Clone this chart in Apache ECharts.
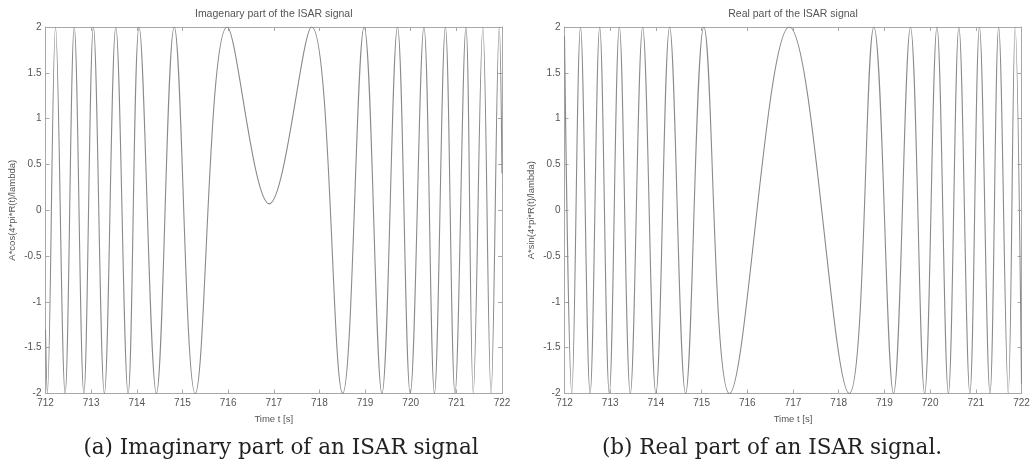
<!DOCTYPE html>
<html><head><meta charset="utf-8">
<script src="https://cdn.jsdelivr.net/npm/echarts@6/dist/echarts.min.js"></script>
<style>html,body{margin:0;padding:0;background:#fff}#c{width:1033px;height:468px}</style>
</head><body><div id="c"></div>
<script>
// ---- data ----
const xTickLabels = ['712','713','714','715','716','717','718','719','720','721','722'];
const yTickLabels = ['-2','-1.5','-1','-0.5','0','0.5','1','1.5','2'];

// Imaginary part: extrema (peaks / troughs)
const imagT = [712, 712.04, 712.22, 712.43, 712.63, 712.84, 713.05, 713.29, 713.54, 713.81, 714.05, 714.43, 714.82, 715.28, 715.98, 716.90, 717.83, 718.51, 718.98, 719.37, 719.71, 719.99, 720.29, 720.52, 720.76, 720.97, 721.21, 721.37, 721.58, 721.76, 721.94, 722];
const imagV = [-1.3, -2, 2, -2, 2, -2, 2, -2, 2, -2, 2, -2, 2, -2, 2, 0.07, 2, -2, 2, -2, 2, -2, 2, -2, 2, -2, 2, -2, 2, -2, 2, 0.4];

// Real part: extrema
const realT = [712, 712.16, 712.35, 712.56, 712.77, 712.98, 713.20, 713.44, 713.71, 714.00, 714.30, 714.65, 715.05, 715.61, 716.92, 718.23, 718.77, 719.20, 719.57, 719.88, 720.15, 720.40, 720.63, 720.87, 721.08, 721.31, 721.50, 721.71, 721.86, 722];
const realV = [1.9, -2, 2, -2, 2, -2, 2, -2, 2, -2, 2, -2, 2, -2, 2, -2, 2, -2, 2, -2, 2, -2, 2, -2, 2, -2, 2, -2, 2, -1.9];

const panelTitles = ['Imagenary part of the ISAR signal', 'Real part of the ISAR signal'];
const yNames = ['A*cos(4*pi*R(t)/lambda)', 'A*sin(4*pi*R(t)/lambda)'];
const xName = 'Time t [s]';
const captions = ['(a) Imaginary part of an ISAR signal', '(b) Real part of an ISAR signal.'];

// ---- chart ----
const chart = echarts.init(document.getElementById('c'), null, {renderer: 'canvas'});
const frameColor = '#a8a8a8';
const textColor = '#555';
const lineColor = '#8a8a8a';
const grids = [
  {left: 45.5, top: 27, width: 456.5, height: 366.5},
  {left: 564.5, top: 27, width: 457, height: 366.5}
];
const xMin = +xTickLabels[0], xMax = +xTickLabels[xTickLabels.length - 1];
const yMin = +yTickLabels[0], yMax = +yTickLabels[yTickLabels.length - 1];

const xAxes = [], yAxes = [];
grids.forEach((g, i) => {
  const common = {
    gridIndex: i, type: 'value', min: xMin, max: xMax, interval: 1,
    axisLine: {show: true, onZero: false, lineStyle: {color: frameColor, width: 1}},
    axisTick: {show: true, inside: true, length: 4, lineStyle: {color: frameColor}},
    splitLine: {show: false}
  };
  xAxes.push(Object.assign({}, common, {
    position: 'bottom',
    axisLabel: {show: true, margin: 5, color: textColor, fontSize: 10, fontFamily: 'Liberation Sans'},
    name: xName, nameLocation: 'middle', nameGap: 21,
    nameTextStyle: {color: textColor, fontSize: 9.5, fontFamily: 'Liberation Sans'}
  }));
  xAxes.push(Object.assign({}, common, {position: 'top', axisLabel: {show: false}}));
  const ycommon = {
    gridIndex: i, type: 'value', min: yMin, max: yMax, interval: 0.5,
    axisLine: {show: true, onZero: false, lineStyle: {color: frameColor, width: 1}},
    axisTick: {show: true, inside: true, length: 4, lineStyle: {color: frameColor}},
    splitLine: {show: false}
  };
  yAxes.push(Object.assign({}, ycommon, {
    position: 'left',
    axisLabel: {show: true, margin: 4, color: textColor, fontSize: 10, fontFamily: 'Liberation Sans'},
    name: yNames[i], nameLocation: 'middle', nameGap: 28,
    nameTextStyle: {color: textColor, fontSize: 9.5, fontFamily: 'Liberation Sans'}
  }));
  yAxes.push(Object.assign({}, ycommon, {position: 'right', axisLabel: {show: false}}));
});

function pairs(t, v) { return t.map((x, k) => [x, v[k]]); }

const series = [
  {type: 'line', xAxisIndex: 0, yAxisIndex: 0, data: pairs(imagT, imagV)},
  {type: 'line', xAxisIndex: 2, yAxisIndex: 2, data: pairs(realT, realV)}
].map(s => Object.assign(s, {
  showSymbol: false, smooth: 0.38, animation: false, clip: true,
  lineStyle: {color: lineColor, width: 1.1}
}));

const graphic = [];
grids.forEach((g, i) => {
  graphic.push({
    type: 'text', x: g.left + g.width / 2, y: 14,
    style: {text: panelTitles[i], fill: textColor, font: '10.5px "Liberation Sans"', textAlign: 'center', textVerticalAlign: 'middle'}
  });
});
graphic.push({type: 'text', x: 281, y: 448, style: {text: captions[0], fill: '#222', font: '21.5px "DejaVu Serif"', textAlign: 'center', textVerticalAlign: 'middle'}});
graphic.push({type: 'text', x: 772, y: 448, style: {text: captions[1], fill: '#222', font: '21.5px "DejaVu Serif"', textAlign: 'center', textVerticalAlign: 'middle'}});

chart.setOption({
  animation: false,
  backgroundColor: '#fff',
  grid: grids,
  xAxis: xAxes,
  yAxis: yAxes,
  series: series,
  graphic: graphic
});
</script></body></html>
